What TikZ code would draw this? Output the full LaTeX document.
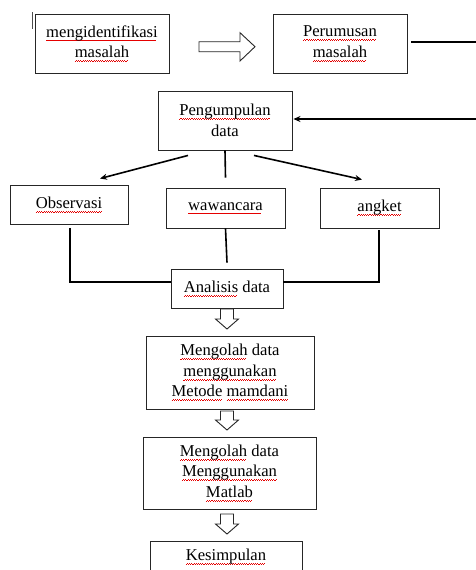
\documentclass[tikz,border=0pt]{standalone}
\usepackage{fontspec}
\setmainfont{Liberation Serif}
\usetikzlibrary{arrows.meta}
\newsavebox\sqbox
\newcommand\sq[1]{\sbox\sqbox{#1}\rlap{\color{red!90!black}\leaders\hbox{\rule[-3.6pt]{1.1pt}{0.45pt}\rule[-2.9pt]{1.1pt}{0.45pt}}\hskip\wd\sqbox}\usebox\sqbox}
\begin{document}
\begin{tikzpicture}[x=1pt,y=-1pt,
  box/.style={draw=black!85,line width=0.9pt,align=center,inner sep=2pt,
              font=\fontsize{16.6}{20.5}\selectfont},
  conn/.style={line width=1.6pt,black},
  blk/.style={draw=black!85,line width=0.9pt,fill=white,line join=miter}]
\clip (0,0) rectangle (476,570);
\fill[white] (0,0) rectangle (476,570);

% cursor mark
\draw[line width=0.9pt,black!70] (32,12) -- (32,29);

% boxes
\node[box,minimum width=134pt,minimum height=59pt] (m1) at (102,43.5) {\sq{mengidentifikasi}\\\sq{masalah}};
\node[box,minimum width=134pt,minimum height=59pt] (pr) at (340,43.5) {\sq{Perumusan}\\\sq{masalah}};
\node[box,minimum width=134pt,minimum height=59pt] (pd) at (225,120.5) {\sq{Pengumpulan}\\data};
\node[box,minimum width=118pt,minimum height=39pt] (obs) at (69,204.5) {\sq{Observasi}};
\node[box,minimum width=119pt,minimum height=40pt] (waw) at (225.5,208) {\sq{wawancara}};
\node[box,minimum width=119pt,minimum height=40pt] (ang) at (379.5,208) {\sq{angket}};
\node[box,minimum width=112pt,minimum height=39pt] (an) at (227,288.5) {\sq{Analisis} data};
\node[box,minimum width=168pt,minimum height=73pt] (mo1) at (230,372.5) {\sq{Mengolah} data\\\sq{menggunakan}\\\sq{Metode} \sq{mamdani}};
\node[box,minimum width=173pt,minimum height=72pt] (mo2) at (229.5,473) {\sq{Mengolah} data\\\sq{Menggunakan}\\\sq{Matlab}};
\node[box,minimum width=152pt,minimum height=32pt] (kes) at (226,557) {\sq{Kesimpulan}};

% block arrow right
\draw[blk] (199,41.7) -- (240,41.7) -- (240,32.7) -- (255,46.7) -- (240,61) -- (240,51.7) -- (199,51.7) -- cycle;

% block arrows down
\foreach \t/\b in {309/329, 411/430, 514/534}{
  \draw[blk] (220.5,\t) -- (233.5,\t) -- (233.5,{\b-10}) -- (238.5,{\b-10}) -- (227,\b)
     -- (215.5,{\b-10}) -- (220.5,{\b-10}) -- cycle;
}

% feedback line from Perumusan to Pengumpulan
\coordinate (r1) at (476,42);
\coordinate (r2) at (476,119);
\draw[conn] ([shift={(4,-1.5)}]pr.east) -- (r1);
\draw[conn,-{Stealth[length=7pt,width=6pt]}] (r2) -- ([shift={(1,-1.5)}]pd.east);

% branches from Pengumpulan
\draw[conn,-{Stealth[length=7pt,width=6pt]}] ([shift={(-37,5)}]pd.south) -- ([shift={(31,-6)}]obs.north);
\draw[conn] (pd.south) -- ([yshift=10pt]waw.north);
\draw[conn,-{Stealth[length=7pt,width=6pt]}] ([shift={(29,5)}]pd.south) -- ([shift={(-17.5,-8)}]ang.north);

% joins to Analisis
\draw[conn] ([shift={(1,3.5)}]obs.south) |- ([shift={(0,-6.5)}]an.west);
\draw[conn] (waw.south) -- ([yshift=6pt]an.north);
\draw[conn] ([shift={(-0.5,2)}]ang.south) |- ([shift={(0,-6.5)}]an.east);
\end{tikzpicture}
\end{document}
